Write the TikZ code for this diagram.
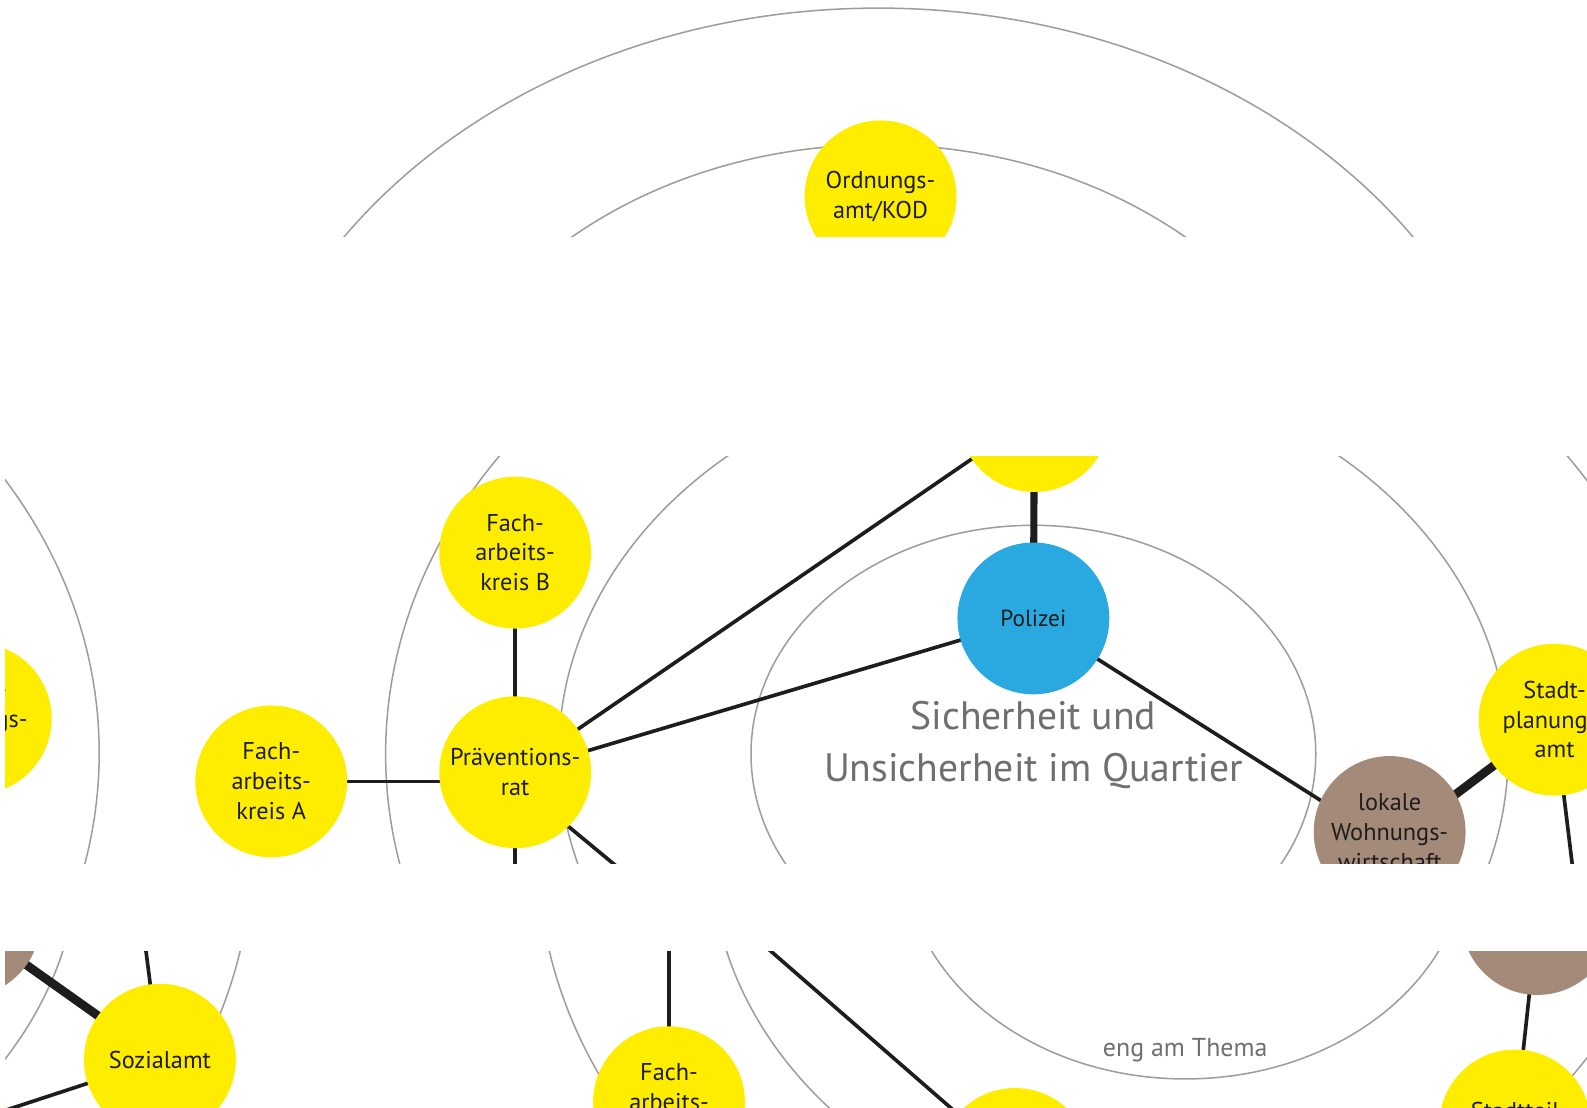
\documentclass[tikz,border=0pt]{standalone}
\usepackage{fontspec}
\setmainfont{PT Sans}
\usetikzlibrary{calc}
\pgfdeclarelayer{bg}
\pgfsetlayers{bg,main}
\definecolor{ygelb}{HTML}{FFED00}
\definecolor{pblau}{HTML}{2AA8E0}
\definecolor{wbraun}{HTML}{A38A79}
\definecolor{txt}{HTML}{1D1D1B}
\definecolor{ringgrau}{HTML}{9D9D9C}
\definecolor{titelgrau}{HTML}{6F6F6E}
\definecolor{linie}{HTML}{1D1D1B}
\tikzset{
 knot/.style={circle,minimum size=75pt,inner sep=0pt,align=center,text=txt,font=\fontsize{12}{14.75}\selectfont},
 gelb/.style={knot,fill=ygelb},
 blau/.style={knot,fill=pblau},
 braun/.style={knot,fill=wbraun},
 ring/.style={draw=ringgrau,line width=0.75pt},
 verb/.style={draw=linie,line width=1.8pt},
 dickverb/.style={draw=linie,line width=4.3pt},
 mittelverb/.style={draw=linie,line width=3.5pt},
 titeltext/.style={text=titelgrau,align=center,font=\fontsize{19.6}{25.5}\selectfont},
 engtext/.style={text=titelgrau,font=\fontsize{12.8}{15}\selectfont},
}
\newcommand\ringset[2]{%
 \draw[ring] (#1,#2) ellipse [x radius=139.5pt,y radius=113pt];
 \draw[ring] (#1,#2) ellipse [x radius=234.5pt,y radius=192.5pt];
 \draw[ring] (#1,#2) ellipse [x radius=320pt,y radius=260pt];
}
\begin{document}
\begin{tikzpicture}[x=0.5pt,y=-0.5pt]
\useasboundingbox (0,0) rectangle (1568,1094);
% ---------- top strip ----------
\begin{scope}
\clip (0,0) rectangle (1568,234);
\node[gelb] (ord) at (870,194) {Ordnungs-\\amt/KOD};
\end{scope}
\begin{pgfonlayer}{bg}
\fill[white] (0,0) rectangle (1568,1094);
\begin{scope}
\clip (0,0) rectangle (1568,234);
\ringset{868}{528}
\end{scope}
\end{pgfonlayer}
% ---------- middle strip ----------
\begin{scope}
\clip (5,451) rectangle (1568,853);
\node[gelb] (mtop) at (1022,411) {};
\node[blau,font=\fontsize{11.5}{14}\selectfont] (pol) at (1021,611) {Polizei};
\node[gelb] (fachB) at (509,546) {Fach-\\arbeits-\\kreis B};
\node[gelb] (praev) at (509,763) {Präventions-\\rat};
\node[gelb] (fachA) at (268,772) {Fach-\\arbeits-\\kreis A};
\node[braun] (lok) at (1373,822) {lokale\\Wohnungs-\\wirtschaft};
\node[gelb] (stp) at (1536,711) {Stadt-\\planungs-\\amt};
\node[gelb] (lstp) at (-24,710) {Stadt-\\planungs-\\amt};
\node[titeltext] (titel) at (1021,736) {Sicherheit und\\Unsicherheit im Quartier};
\end{scope}
\begin{pgfonlayer}{bg}
\begin{scope}
\clip (5,451) rectangle (1568,853);
\ringset{1021}{745}
\ringset{-542}{744}
\coordinate (lokc) at ($(lok.center)+(0,12)$);
\coordinate (stpend) at (1559,900);
\coordinate (praevend) at (509,900);
\coordinate (praevend2) at (660,898);
\draw[verb] (praev.center) -- (mtop.center);
\draw[verb] (praev.center) -- (pol.center);
\draw[verb] (fachA.center) -- (fachA.center -| praev.center);
\draw[verb] (fachB.center) -- (praev.center);
\draw[verb] (praev.center) -- (praevend);
\draw[verb] ($(praev.center)+(0,10)$) -- (praevend2);
\draw[mittelverb] (pol.center) -- (mtop.center);
\draw[verb] (pol.center) -- (lokc);
\draw[dickverb] (lokc) -- (stp.center);
\draw[verb] (stp.center) -- (stpend);
\end{scope}
\end{pgfonlayer}
% ---------- bottom strip ----------
\begin{scope}
\clip (5,940) rectangle (1568,1094);
\node[braun] (bbr) at (-35,910) {};
\node[gelb] (soz) at (158,1047) {Sozialamt};
\node[gelb] (bly) at (-65,1120) {};
\node[gelb] (fachC) at (661,1089) {Fach-\\arbeits-\\\mbox{}};
\node[gelb] (bmid) at (1003,1150) {};
\node[braun] (bbr2) at (1519,908) {\mbox{}\\\mbox{}\\wirtschaft};
\node[gelb] (bst) at (1497,1112) {Stadtteil\\\mbox{}};
\node[engtext] (eng) at (1171,1038) {eng am Thema};
\end{scope}
\begin{pgfonlayer}{bg}
\begin{scope}
\clip (5,940) rectangle (1568,1094);
\ringset{1171}{840}
\ringset{-391}{840}
\coordinate (sozup) at (143,930);
\coordinate (fachCup) at (661,900);
\coordinate (bmidend) at (693,880);
\draw[dickverb] (bbr.center) -- (soz.center);
\draw[verb] (soz.center) -- (sozup);
\draw[verb] (soz.center) -- (bly.center);
\draw[verb] (fachC.center) -- (fachCup);
\draw[verb] (bmid.center) -- (bmidend);
\draw[verb] (bbr2.center) -- (bst.center);
\end{scope}
\end{pgfonlayer}
\end{tikzpicture}
\end{document}
